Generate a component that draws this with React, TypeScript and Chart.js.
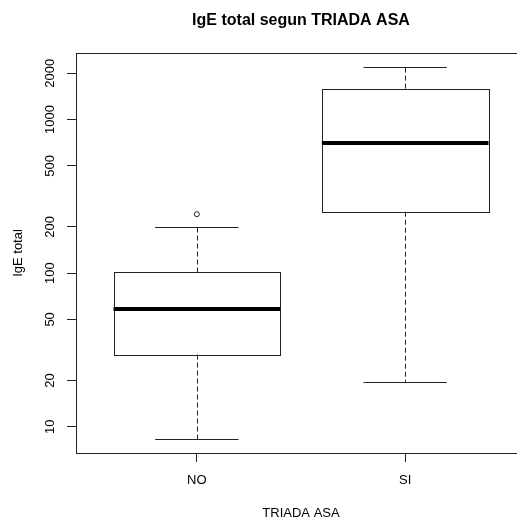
import React, { useEffect, useRef } from "react";
import { Chart, registerables } from "chart.js";

Chart.register(...registerables);

const titleText = "IgE total segun TRIADA ASA";
const xTitle = "TRIADA ASA";
const yTitle = "IgE total";
const categories = ["NO", "SI"];
const whiskerLow = [8.3, 19.6];
const q1 = [29.5, 251];
const median = [58.7, 708];
const q3 = [101, 1590];
const whiskerHigh = [200, 2190];
const outliers = [[242], []];
const yTicks = [10, 20, 50, 100, 200, 500, 1000, 2000];

const FONT = "'Liberation Sans', Arial, Helvetica, sans-serif";
const LINE = "#222";

const boxPlugin = {
  id: "boxes",
  afterDatasetsDraw(chart: any) {
    const ctx = chart.ctx;
    const xs = chart.scales.x;
    const ys = chart.scales.y;
    ctx.save();
    ctx.beginPath();
    ctx.rect(chart.chartArea.left, chart.chartArea.top, chart.chartArea.right - chart.chartArea.left, chart.chartArea.bottom - chart.chartArea.top);
    ctx.clip();
    categories.forEach((_, i) => {
      const c = xs.getPixelForValue(i + 1);
      const bl = xs.getPixelForValue(i + 1 - 0.4);
      const br = xs.getPixelForValue(i + 1 + 0.4);
      const cl = xs.getPixelForValue(i + 1 - 0.2);
      const cr = xs.getPixelForValue(i + 1 + 0.2);
      const yq1 = ys.getPixelForValue(q1[i]);
      const yq3 = ys.getPixelForValue(q3[i]);
      const ymed = ys.getPixelForValue(median[i]);
      const ylo = ys.getPixelForValue(whiskerLow[i]);
      const yhi = ys.getPixelForValue(whiskerHigh[i]);
      ctx.strokeStyle = LINE;
      ctx.lineWidth = 1;
      ctx.setLineDash([5, 3]);
      ctx.beginPath();
      ctx.moveTo(Math.round(c) + 0.5, yq3);
      ctx.lineTo(Math.round(c) + 0.5, yhi);
      ctx.moveTo(Math.round(c) + 0.5, yq1);
      ctx.lineTo(Math.round(c) + 0.5, ylo);
      ctx.stroke();
      ctx.setLineDash([]);
      ctx.beginPath();
      ctx.moveTo(cl, Math.round(yhi) + 0.5);
      ctx.lineTo(cr, Math.round(yhi) + 0.5);
      ctx.moveTo(cl, Math.round(ylo) + 0.5);
      ctx.lineTo(cr, Math.round(ylo) + 0.5);
      ctx.stroke();
      ctx.strokeRect(Math.round(bl) + 0.5, Math.round(yq3) + 0.5, Math.round(br) - Math.round(bl), Math.round(yq1) - Math.round(yq3));
      ctx.lineWidth = 4;
      ctx.strokeStyle = "#000";
      ctx.beginPath();
      ctx.moveTo(bl, Math.round(ymed));
      ctx.lineTo(br, Math.round(ymed));
      ctx.stroke();
    });
    ctx.restore();
  },
};

export default function App() {
  const ref = useRef<HTMLCanvasElement | null>(null);
  useEffect(() => {
    if (!ref.current) return;
    const outlierPts: { x: number; y: number }[] = [];
    outliers.forEach((arr, i) => arr.forEach((v) => outlierPts.push({ x: i + 1, y: v })));
    const chart = new Chart(ref.current, {
      type: "scatter",
      data: {
        datasets: [
          {
            data: outlierPts,
            pointStyle: "circle",
            pointRadius: 2.5,
            pointBorderWidth: 1,
            pointBorderColor: LINE,
            pointBackgroundColor: "rgba(0,0,0,0)",
          },
        ],
      },
      options: {
        animation: false,
        responsive: false,
        devicePixelRatio: 1,
        layout: { padding: 0 },
        plugins: { legend: { display: false }, tooltip: { enabled: false }, title: { display: false } },
        scales: {
          x: {
            type: "linear",
            position: "bottom",
            min: 0.42,
            max: 2.58,
            afterBuildTicks: (s: any) => {
              s.ticks = categories.map((_, i) => ({ value: i + 1 }));
            },
            afterFit: (s: any) => {
              s.height = 530 - 453;
            },
            ticks: {
              autoSkip: false,
              maxRotation: 0,
              minRotation: 0,
              padding: 11,
              color: "#000",
              font: { family: FONT, size: 13 },
              callback: (v: any) => categories[Math.round(Number(v)) - 1] ?? "",
            },
            grid: { display: true, drawOnChartArea: false, drawTicks: true, tickLength: 9, color: LINE },
            border: { display: true, color: LINE, width: 1 },
            title: { display: true, text: xTitle, color: "#000", font: { family: FONT, size: 13 }, padding: { top: 0, bottom: 9 } },
          },
          x2: {
            type: "linear",
            position: "top",
            min: 0.42,
            max: 2.58,
            afterFit: (s: any) => {
              s.height = 53;
            },
            ticks: { display: false },
            grid: { display: false, drawTicks: false },
            border: { display: true, color: LINE, width: 1 },
            title: { display: true, text: titleText, color: "#000", font: { family: FONT, size: 16, weight: "bold" }, padding: { top: 11, bottom: 0 } },
          },
          y: {
            type: "logarithmic",
            position: "left",
            min: 6.745,
            max: 2712,
            afterBuildTicks: (s: any) => {
              s.ticks = yTicks.map((v) => ({ value: v }));
            },
            afterFit: (s: any) => {
              s.width = 76;
            },
            ticks: {
              autoSkip: false,
              minRotation: 90,
              maxRotation: 90,
              crossAlign: "center",
              padding: 2.5,
              color: "#000",
              font: { family: FONT, size: 13 },
              callback: (v: any) => String(v),
            },
            grid: { display: true, drawOnChartArea: false, drawTicks: true, tickLength: 9, color: LINE },
            border: { display: true, color: LINE, width: 1 },
            title: { display: true, text: yTitle, color: "#000", font: { family: FONT, size: 13 }, padding: { top: 10.5, bottom: 0 } },
          },
        },
      } as any,
      plugins: [boxPlugin],
    });
    return () => chart.destroy();
  }, []);
  return (
    <div style={{ position: "fixed", left: 0, top: 0, width: 517, height: 519, overflow: "hidden", background: "#fff" }}>
      <canvas ref={ref} width={531} height={530} style={{ width: 531, height: 530, display: "block" }} />
    </div>
  );
}
